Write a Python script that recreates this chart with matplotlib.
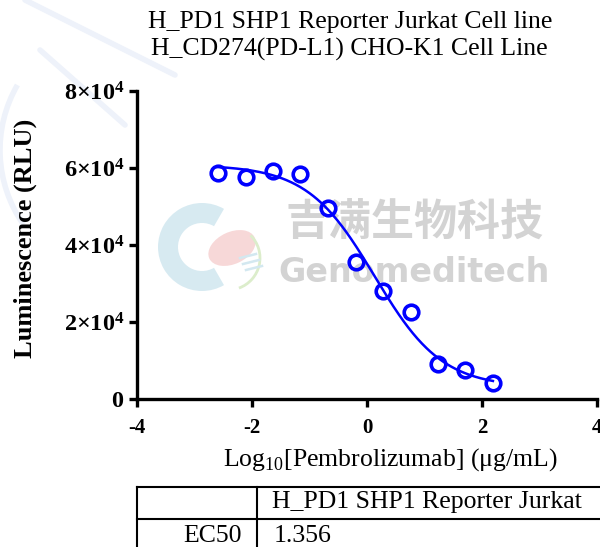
import matplotlib.pyplot as plt
import matplotlib.ticker as mticker
import numpy as np
from matplotlib.patches import Wedge, Ellipse, Arc

plt.rcParams["font.family"] = ["Liberation Serif", "DejaVu Serif"]
plt.rcParams["mathtext.fontset"] = "custom"
plt.rcParams["mathtext.rm"] = "Liberation Serif"
plt.rcParams["mathtext.bf"] = "Liberation Serif:bold"
plt.rcParams["axes.unicode_minus"] = False

# Donnees
log_conc = [-2.60, -2.11, -1.63, -1.16, -0.68, -0.20, 0.285, 0.76, 1.23, 1.71, 2.19]
rlu = [58600, 57600, 59200, 58400, 49700, 35700, 28000, 22600, 9200, 7450, 4200]

# Parametres de l'ajustement 4PL
top, bottom = 60800, 3000
log_ec50 = np.log10(1.356)
hill = 0.74

title_lines = ["H_PD1 SHP1 Reporter Jurkat Cell line",
               "H_CD274(PD-L1) CHO-K1 Cell Line"]
table_header = "H_PD1 SHP1 Reporter Jurkat"
table_row = ["EC50", "1.356"]

W, H = 600, 547
fig = plt.figure(figsize=(W / 100, H / 100), dpi=100)

# calque de fond en pixels (filigrane, tableau)
bg = fig.add_axes([0, 0, 1, 1], zorder=0)
bg.set_xlim(0, W)
bg.set_ylim(0, H)
bg.axis("off")


def py(y):
    return H - y


for (x0, y0, x1, y1) in [(25, 0, 175, 75), (40, 50, 125, 125)]:
    bg.plot([x0, x1], [py(y0), py(y1)], color="#eef2fa", lw=4, solid_capstyle="round")
bg.add_patch(Arc((130, py(150)), 260, 260, theta1=150, theta2=215,
                 color="#eef2fa", lw=4))

bg.add_patch(Wedge((202, py(247)), 44, 60, 300, width=20, color="#d3e8f0", alpha=0.9, lw=0))
bg.add_patch(Ellipse((232, py(248)), 50, 32, angle=25, color="#f7d4d4", alpha=0.9, lw=0))
bg.add_patch(Arc((228, py(258)), 64, 64, theta1=-70, theta2=45, color="#dcedcb", lw=2))
for k in range(3):
    bg.plot([240 + 3 * k, 256 + 3 * k], [py(258 + 6 * k), py(254 + 6 * k)],
            color="#d3e8f0", lw=1.8)

bg.text(415, py(222), "吉满生物科技", family=["Noto Sans CJK SC"],
        fontsize=31, fontweight="heavy", color="#d3d3d3", ha="center", va="center")
bg.text(414, py(273), "Genomeditech", family=["DejaVu Sans"],
        fontsize=24, fontweight="bold", color="#d3d3d3", ha="center", va="center")

# tableau EC50
for y in (487, 519):
    bg.plot([137, W], [py(y), py(y)], color="black", lw=1.5)
for x in (137, 257):
    bg.plot([x, x], [py(487), 0], color="black", lw=1.5)
bg.text(272, py(508), table_header, fontsize=18.5, va="baseline")
bg.text(242, py(542), table_row[0], fontsize=18.5, va="baseline", ha="right")
bg.text(274, py(542), table_row[1], fontsize=18.5, va="baseline")

# titre et libelles
bg.text(350, py(28), title_lines[0], fontsize=18.5, ha="center", va="baseline")
bg.text(349, py(56), title_lines[1], fontsize=18.5, ha="center", va="baseline")
bg.text(390, py(466), r"Log$_{10}$[Pembrolizumab] (μg/mL)", fontsize=18.5,
        ha="center", va="baseline")
bg.text(25, py(238), "Luminescence (RLU)", fontsize=19, fontweight="bold",
        rotation=90, ha="center", va="center")

# courbe dose-reponse
ax = fig.add_axes([137 / W, 1 - 399 / H, (597 - 137) / W, (399 - 91) / H], zorder=1)
ax.patch.set_alpha(0)

xs = np.linspace(min(log_conc), max(log_conc), 300)
fit = bottom + (top - bottom) / (1 + 10 ** ((xs - log_ec50) * hill))
ax.plot(xs, fit, color="#0000ff", lw=1.8, zorder=3)
ax.plot(log_conc, rlu, "o", mfc="none", mec="#0000ff", ms=10.5, mew=2.6,
        zorder=4, clip_on=False)

ax.set_xlim(-4, 4)
ax.set_ylim(0, 80000)
ax.set_xticks([-4, -2, 0, 2, 4])
ax.set_yticks([0, 20000, 40000, 60000, 80000])


def fmt(v, pos):
    if v == 0:
        return r"$\mathbf{0}$"
    return r"$\mathbf{%d{\times}10^{4}}$" % (v / 10000)


ax.yaxis.set_major_formatter(mticker.FuncFormatter(fmt))
for s in ("top", "right"):
    ax.spines[s].set_visible(False)
for s in ("left", "bottom"):
    ax.spines[s].set_linewidth(2.4)
ax.tick_params(width=2.4, length=6)
ax.tick_params(axis="x", labelsize=15, pad=8)
ax.tick_params(axis="y", labelsize=17.5, pad=3)
for lab in ax.get_xticklabels():
    lab.set_fontweight("bold")

fig.savefig("out.png", dpi=100)
